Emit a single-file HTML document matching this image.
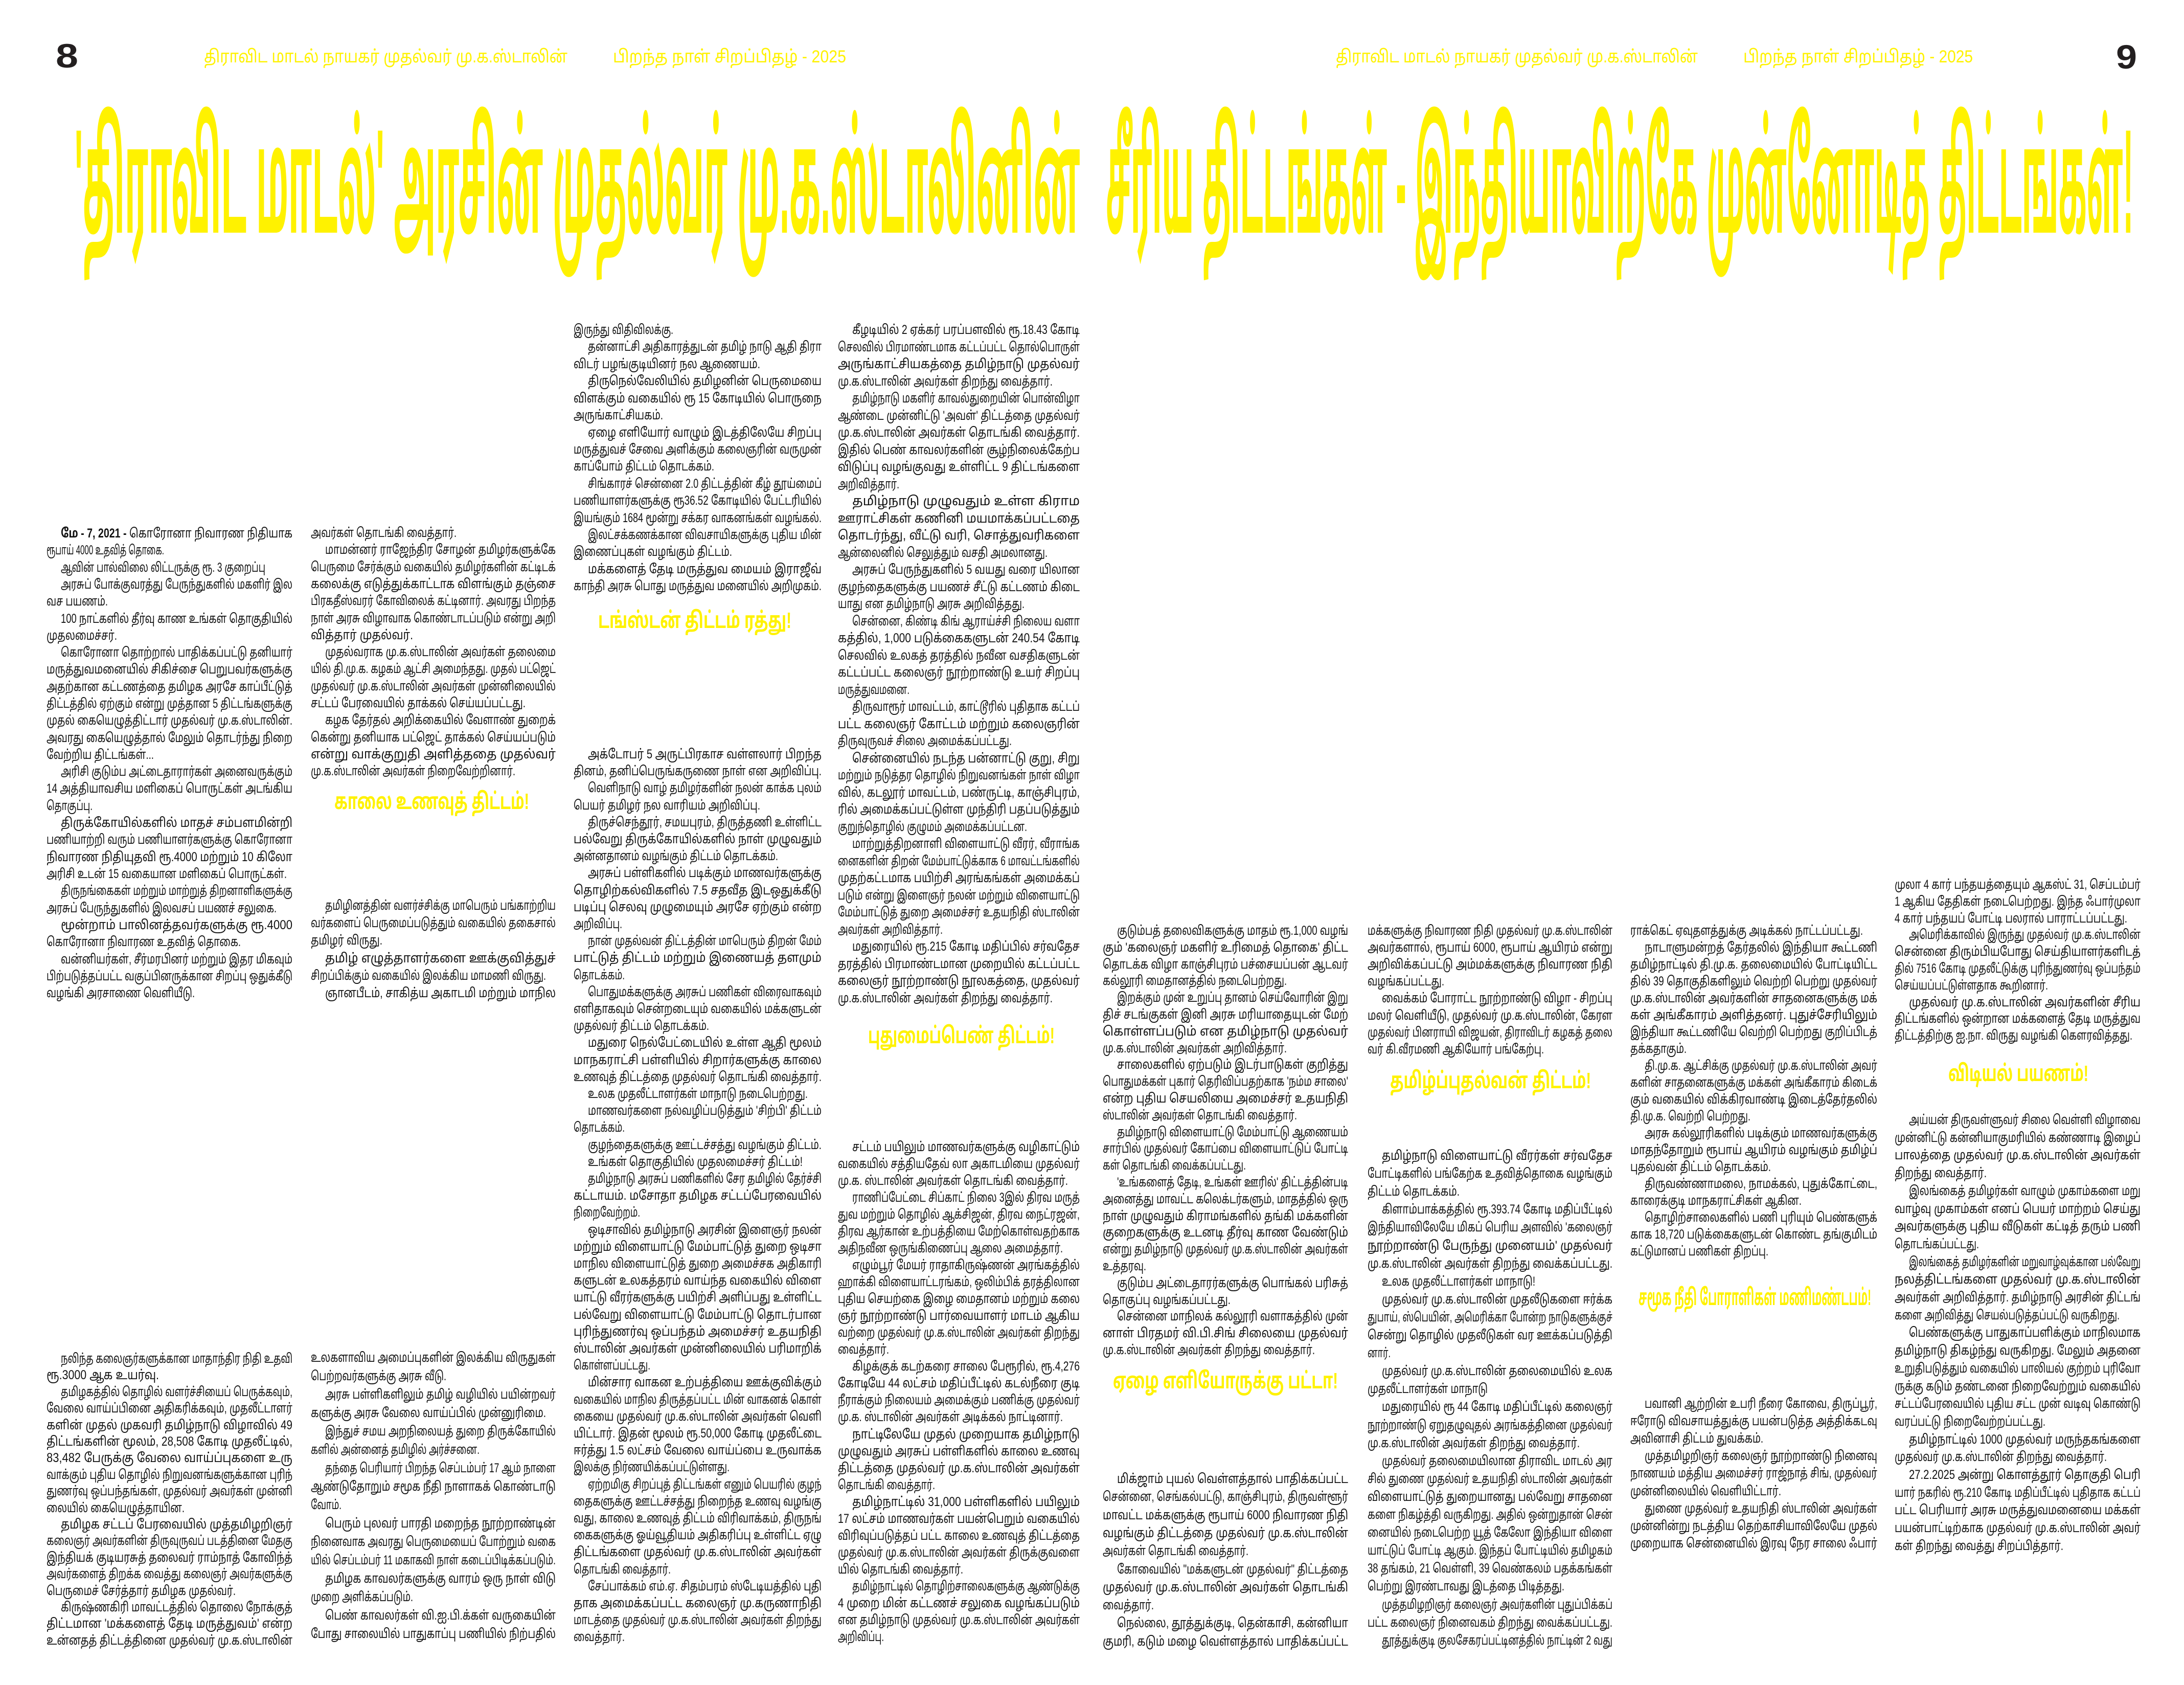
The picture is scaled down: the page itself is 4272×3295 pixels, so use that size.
<!DOCTYPE html>
<html><head><meta charset="utf-8"><style>
html,body{margin:0;padding:0;background:#fff;}
svg{display:block}
text{font-family:"Liberation Sans","Noto Sans Tamil","Lohit Tamil","Noto Sans CJK SC",sans-serif;font-size:25px;fill:#111}
.h{fill:#fff200;font-weight:bold;font-size:44px}
.y{fill:#fff200;font-size:34px}
.n{font-size:66px;font-weight:bold;fill:#231f20}
.t{fill:#fff200;font-weight:bold;font-size:290px}
</style></head><body>
<svg width="4272" height="3295" viewBox="0 0 4272 3295" xmlns="http://www.w3.org/2000/svg">
<rect width="4272" height="3295" fill="#fff"/>
<text class="n" x="109" y="132" textLength="44" lengthAdjust="spacingAndGlyphs">8</text>
<text class="n" x="4139" y="134" textLength="41" lengthAdjust="spacingAndGlyphs">9</text>
<text class="y" x="399" y="122" textLength="711" lengthAdjust="spacingAndGlyphs">திராவிட மாடல் நாயகர் முதல்வர் மு.க.ஸ்டாலின்</text>
<text class="y" x="1199" y="122" textLength="456" lengthAdjust="spacingAndGlyphs">பிறந்த நாள் சிறப்பிதழ் - 2025</text>
<text class="y" x="2613" y="122" textLength="708" lengthAdjust="spacingAndGlyphs">திராவிட மாடல் நாயகர் முதல்வர் மு.க.ஸ்டாலின்</text>
<text class="y" x="3410" y="122" textLength="449" lengthAdjust="spacingAndGlyphs">பிறந்த நாள் சிறப்பிதழ் - 2025</text>
<text class="t" x="146" y="455" textLength="1967" lengthAdjust="spacingAndGlyphs">'திராவிட மாடல்' அரசின் முதல்வர் மு.க.ஸ்டாலினின்</text>
<text class="t" x="2163" y="455" textLength="2010" lengthAdjust="spacingAndGlyphs">சீரிய திட்டங்கள் - இந்தியாவிற்கே முன்னோடித் திட்டங்கள்!</text>

<text class="h" x="654" y="1582" textLength="381" lengthAdjust="spacingAndGlyphs">காலை உணவுத் திட்டம்!</text>
<text class="h" x="1170" y="1228" textLength="378" lengthAdjust="spacingAndGlyphs">டங்ஸ்டன் திட்டம் ரத்து!</text>
<text class="h" x="1698" y="2040" textLength="365" lengthAdjust="spacingAndGlyphs">புதுமைப்பெண் திட்டம்!</text>
<text class="h" x="2177" y="2715" textLength="440" lengthAdjust="spacingAndGlyphs">ஏழை எளியோருக்கு பட்டா!</text>
<text class="h" x="2719" y="2128" textLength="393" lengthAdjust="spacingAndGlyphs">தமிழ்ப்புதல்வன் திட்டம்!</text>
<text class="h" x="3205" y="2552" textLength="455" lengthAdjust="spacingAndGlyphs">சமூக நீதி போராளிகள் மணிமண்டபம்!</text>
<text class="h" x="3811" y="2114" textLength="274" lengthAdjust="spacingAndGlyphs">விடியல் பயணம்!</text>

<g>
<text x="119" y="1051" textLength="453" lengthAdjust="spacingAndGlyphs"><tspan font-weight="bold">மே - 7, 2021 -</tspan> கொரோனா நிவாரண நிதியாக</text>
<text x="91" y="1084" textLength="230" lengthAdjust="spacingAndGlyphs">ரூபாய் 4000 உதவித் தொகை.</text>
<text x="119" y="1118" textLength="400" lengthAdjust="spacingAndGlyphs">ஆவின் பால்விலை லிட்டருக்கு ரூ. 3 குறைப்பு</text>
<text x="119" y="1151" textLength="453" lengthAdjust="spacingAndGlyphs">அரசுப் போக்குவரத்து பேருந்துகளில் மகளிர் இல</text>
<text x="91" y="1184" textLength="120" lengthAdjust="spacingAndGlyphs">வச பயணம்.</text>
<text x="119" y="1218" textLength="453" lengthAdjust="spacingAndGlyphs">100 நாட்களில் தீர்வு காண உங்கள் தொகுதியில்</text>
<text x="91" y="1251" textLength="138" lengthAdjust="spacingAndGlyphs">முதலமைச்சர்.</text>
<text x="119" y="1284" textLength="453" lengthAdjust="spacingAndGlyphs">கொரோனா தொற்றால் பாதிக்கப்பட்டு தனியார்</text>
<text x="91" y="1317" textLength="481" lengthAdjust="spacingAndGlyphs">மருத்துவமனையில் சிகிச்சை பெறுபவர்களுக்கு</text>
<text x="91" y="1351" textLength="481" lengthAdjust="spacingAndGlyphs">அதற்கான கட்டணத்தை தமிழக அரசே காப்பீட்டுத்</text>
<text x="91" y="1384" textLength="481" lengthAdjust="spacingAndGlyphs">திட்டத்தில் ஏற்கும் என்று முத்தான 5 திட்டங்களுக்கு</text>
<text x="91" y="1417" textLength="481" lengthAdjust="spacingAndGlyphs">முதல் கையெழுத்திட்டார் முதல்வர் மு.க.ஸ்டாலின்.</text>
<text x="91" y="1451" textLength="481" lengthAdjust="spacingAndGlyphs">அவரது கையெழுத்தால் மேலும் தொடர்ந்து நிறை</text>
<text x="91" y="1484" textLength="210" lengthAdjust="spacingAndGlyphs">வேற்றிய திட்டங்கள்...</text>
<text x="119" y="1517" textLength="453" lengthAdjust="spacingAndGlyphs">அரிசி குடும்ப அட்டைதாரார்கள் அனைவருக்கும்</text>
<text x="91" y="1550" textLength="481" lengthAdjust="spacingAndGlyphs">14 அத்தியாவசிய மளிகைப் பொருட்கள் அடங்கிய</text>
<text x="91" y="1584" textLength="90" lengthAdjust="spacingAndGlyphs">தொகுப்பு.</text>
<text x="119" y="1617" textLength="453" lengthAdjust="spacingAndGlyphs">திருக்கோயில்களில் மாதச் சம்பளமின்றி</text>
<text x="91" y="1650" textLength="481" lengthAdjust="spacingAndGlyphs">பணியாற்றி வரும் பணியாளர்களுக்கு கொரோனா</text>
<text x="91" y="1684" textLength="481" lengthAdjust="spacingAndGlyphs">நிவாரண நிதியுதவி ரூ.4000 மற்றும் 10 கிலோ</text>
<text x="91" y="1717" textLength="470" lengthAdjust="spacingAndGlyphs">அரிசி உடன் 15 வகையான மளிகைப் பொருட்கள்.</text>
<text x="119" y="1750" textLength="453" lengthAdjust="spacingAndGlyphs">திருநங்கைகள் மற்றும் மாற்றுத் திறனாளிகளுக்கு</text>
<text x="91" y="1784" textLength="450" lengthAdjust="spacingAndGlyphs">அரசுப் பேருந்துகளில் இலவசப் பயணச் சலுகை.</text>
<text x="119" y="1817" textLength="453" lengthAdjust="spacingAndGlyphs">மூன்றாம் பாலினத்தவர்களுக்கு ரூ.4000</text>
<text x="91" y="1850" textLength="380" lengthAdjust="spacingAndGlyphs">கொரோனா நிவாரண உதவித் தொகை.</text>
<text x="119" y="1884" textLength="453" lengthAdjust="spacingAndGlyphs">வன்னியர்கள், சீர்மரபினர் மற்றும் இதர மிகவும்</text>
<text x="91" y="1917" textLength="481" lengthAdjust="spacingAndGlyphs">பிற்படுத்தப்பட்ட வகுப்பினருக்கான சிறப்பு ஒதுக்கீடு</text>
<text x="91" y="1950" textLength="290" lengthAdjust="spacingAndGlyphs">வழங்கி அரசாணை வெளியீடு.</text>
</g>

<g>
<text x="119" y="2665" textLength="453" lengthAdjust="spacingAndGlyphs">நலிந்த கலைஞர்களுக்கான மாதாந்திர நிதி உதவி</text>
<text x="91" y="2697" textLength="220" lengthAdjust="spacingAndGlyphs">ரூ.3000 ஆக உயர்வு.</text>
<text x="119" y="2730" textLength="453" lengthAdjust="spacingAndGlyphs">தமிழகத்தில் தொழில் வளர்ச்சியைப் பெருக்கவும்,</text>
<text x="91" y="2762" textLength="481" lengthAdjust="spacingAndGlyphs">வேலை வாய்ப்பினை அதிகரிக்கவும், முதலீட்டாளர்</text>
<text x="91" y="2795" textLength="481" lengthAdjust="spacingAndGlyphs">களின் முதல் முகவரி தமிழ்நாடு விழாவில் 49</text>
<text x="91" y="2827" textLength="481" lengthAdjust="spacingAndGlyphs">திட்டங்களின் மூலம், 28,508 கோடி முதலீட்டில்,</text>
<text x="91" y="2859" textLength="481" lengthAdjust="spacingAndGlyphs">83,482 பேருக்கு வேலை வாய்ப்புகளை உரு</text>
<text x="91" y="2892" textLength="481" lengthAdjust="spacingAndGlyphs">வாக்கும் புதிய தொழில் நிறுவனங்களுக்கான புரிந்</text>
<text x="91" y="2924" textLength="481" lengthAdjust="spacingAndGlyphs">துணர்வு ஒப்பந்தங்கள், முதல்வர் அவர்கள் முன்னி</text>
<text x="91" y="2957" textLength="270" lengthAdjust="spacingAndGlyphs">லையில் கையெழுத்தாயின.</text>
<text x="119" y="2989" textLength="453" lengthAdjust="spacingAndGlyphs">தமிழக சட்டப் பேரவையில் முத்தமிழறிஞர்</text>
<text x="91" y="3021" textLength="481" lengthAdjust="spacingAndGlyphs">கலைஞர் அவர்களின் திருவுருவப் படத்தினை மேதகு</text>
<text x="91" y="3054" textLength="481" lengthAdjust="spacingAndGlyphs">இந்தியக் குடியரசுத் தலைவர் ராம்நாத் கோவிந்த்</text>
<text x="91" y="3086" textLength="481" lengthAdjust="spacingAndGlyphs">அவர்களைத் திறக்க வைத்து கலைஞர் அவர்களுக்கு</text>
<text x="91" y="3119" textLength="370" lengthAdjust="spacingAndGlyphs">பெருமைச் சேர்த்தார் தமிழக முதல்வர்.</text>
<text x="119" y="3151" textLength="453" lengthAdjust="spacingAndGlyphs">கிருஷ்ணகிரி மாவட்டத்தில் தொலை நோக்குத்</text>
<text x="91" y="3183" textLength="481" lengthAdjust="spacingAndGlyphs">திட்டமான 'மக்களைத் தேடி மருத்துவம்' என்ற</text>
<text x="91" y="3216" textLength="481" lengthAdjust="spacingAndGlyphs">உன்னதத் திட்டத்தினை முதல்வர் மு.க.ஸ்டாலின்</text>
</g>

<g>
<text x="608" y="1050" textLength="285" lengthAdjust="spacingAndGlyphs">அவர்கள் தொடங்கி வைத்தார்.</text>
<text x="636" y="1083" textLength="451" lengthAdjust="spacingAndGlyphs">மாமன்னர் ராஜேந்திர சோழன் தமிழர்களுக்கே</text>
<text x="608" y="1117" textLength="479" lengthAdjust="spacingAndGlyphs">பெருமை சேர்க்கும் வகையில் தமிழர்களின் கட்டிடக்</text>
<text x="608" y="1150" textLength="479" lengthAdjust="spacingAndGlyphs">கலைக்கு எடுத்துக்காட்டாக விளங்கும் தஞ்சை</text>
<text x="608" y="1183" textLength="479" lengthAdjust="spacingAndGlyphs">பிரகதீஸ்வரர் கோவிலைக் கட்டினார். அவரது பிறந்த</text>
<text x="608" y="1217" textLength="479" lengthAdjust="spacingAndGlyphs">நாள் அரசு விழாவாக கொண்டாடப்படும் என்று அறி</text>
<text x="608" y="1250" textLength="200" lengthAdjust="spacingAndGlyphs">வித்தார் முதல்வர்.</text>
<text x="636" y="1283" textLength="451" lengthAdjust="spacingAndGlyphs">முதல்வராக மு.க.ஸ்டாலின் அவர்கள் தலைமை</text>
<text x="608" y="1316" textLength="479" lengthAdjust="spacingAndGlyphs">யில் தி.மு.க. கழகம் ஆட்சி அமைந்தது. முதல் பட்ஜெட்</text>
<text x="608" y="1350" textLength="479" lengthAdjust="spacingAndGlyphs">முதல்வர் மு.க.ஸ்டாலின் அவர்கள் முன்னிலையில்</text>
<text x="608" y="1383" textLength="420" lengthAdjust="spacingAndGlyphs">சட்டப் பேரவையில் தாக்கல் செய்யப்பட்டது.</text>
<text x="636" y="1416" textLength="451" lengthAdjust="spacingAndGlyphs">கழக தேர்தல் அறிக்கையில் வேளாண் துறைக்</text>
<text x="608" y="1450" textLength="479" lengthAdjust="spacingAndGlyphs">கென்று தனியாக பட்ஜெட் தாக்கல் செய்யப்படும்</text>
<text x="608" y="1483" textLength="479" lengthAdjust="spacingAndGlyphs">என்று வாக்குறுதி அளித்ததை முதல்வர்</text>
<text x="608" y="1516" textLength="400" lengthAdjust="spacingAndGlyphs">மு.க.ஸ்டாலின் அவர்கள் நிறைவேற்றினார்.</text>
</g>
<g>
<text x="636" y="1779" textLength="451" lengthAdjust="spacingAndGlyphs">தமிழினத்தின் வளர்ச்சிக்கு மாபெரும் பங்காற்றிய</text>
<text x="608" y="1813" textLength="479" lengthAdjust="spacingAndGlyphs">வர்களைப் பெருமைப்படுத்தும் வகையில் தகைசால்</text>
<text x="608" y="1847" textLength="140" lengthAdjust="spacingAndGlyphs">தமிழர் விருது.</text>
<text x="636" y="1882" textLength="451" lengthAdjust="spacingAndGlyphs">தமிழ் எழுத்தாளர்களை ஊக்குவித்துச்</text>
<text x="608" y="1916" textLength="460" lengthAdjust="spacingAndGlyphs">சிறப்பிக்கும் வகையில் இலக்கிய மாமணி விருது.</text>
<text x="636" y="1950" textLength="451" lengthAdjust="spacingAndGlyphs">ஞானபீடம், சாகித்ய அகாடமி மற்றும் மாநில</text>
</g>
<g>
<text x="608" y="2663" textLength="479" lengthAdjust="spacingAndGlyphs">உலகளாவிய அமைப்புகளின் இலக்கிய விருதுகள்</text>
<text x="608" y="2699" textLength="265" lengthAdjust="spacingAndGlyphs">பெற்றவர்களுக்கு அரசு வீடு.</text>
<text x="636" y="2735" textLength="451" lengthAdjust="spacingAndGlyphs">அரசு பள்ளிகளிலும் தமிழ் வழியில் பயின்றவர்</text>
<text x="608" y="2771" textLength="460" lengthAdjust="spacingAndGlyphs">களுக்கு அரசு வேலை வாய்ப்பில் முன்னுரிமை.</text>
<text x="636" y="2807" textLength="451" lengthAdjust="spacingAndGlyphs">இந்துச் சமய அறநிலையத் துறை திருக்கோயில்</text>
<text x="608" y="2843" textLength="330" lengthAdjust="spacingAndGlyphs">களில் அன்னைத் தமிழில் அர்ச்சனை.</text>
<text x="636" y="2879" textLength="451" lengthAdjust="spacingAndGlyphs">தந்தை பெரியார் பிறந்த செப்டம்பர் 17 ஆம் நாளை</text>
<text x="608" y="2915" textLength="479" lengthAdjust="spacingAndGlyphs">ஆண்டுதோறும் சமூக நீதி நாளாகக் கொண்டாடு</text>
<text x="608" y="2951" textLength="60" lengthAdjust="spacingAndGlyphs">வோம்.</text>
<text x="636" y="2987" textLength="451" lengthAdjust="spacingAndGlyphs">பெரும் புலவர் பாரதி மறைந்த நூற்றாண்டின்</text>
<text x="608" y="3023" textLength="479" lengthAdjust="spacingAndGlyphs">நினைவாக அவரது பெருமையைப் போற்றும் வகை</text>
<text x="608" y="3059" textLength="479" lengthAdjust="spacingAndGlyphs">யில் செப்டம்பர் 11 மகாகவி நாள் கடைப்பிடிக்கப்படும்.</text>
<text x="636" y="3095" textLength="451" lengthAdjust="spacingAndGlyphs">தமிழக காவலர்களுக்கு வாரம் ஒரு நாள் விடு</text>
<text x="608" y="3131" textLength="200" lengthAdjust="spacingAndGlyphs">முறை அளிக்கப்படும்.</text>
<text x="636" y="3167" textLength="451" lengthAdjust="spacingAndGlyphs">பெண் காவலர்கள் வி.ஐ.பி.க்கள் வருகையின்</text>
<text x="608" y="3203" textLength="479" lengthAdjust="spacingAndGlyphs">போது சாலையில் பாதுகாப்பு பணியில் நிற்பதில்</text>
</g>

<g>
<text x="1122" y="653" textLength="195" lengthAdjust="spacingAndGlyphs">இருந்து விதிவிலக்கு.</text>
<text x="1150" y="686" textLength="457" lengthAdjust="spacingAndGlyphs">தன்னாட்சி அதிகாரத்துடன் தமிழ் நாடு ஆதி திரா</text>
<text x="1122" y="720" textLength="365" lengthAdjust="spacingAndGlyphs">விடர் பழங்குடியினர் நல ஆணையம்.</text>
<text x="1150" y="753" textLength="457" lengthAdjust="spacingAndGlyphs">திருநெல்வேலியில் தமிழனின் பெருமையை</text>
<text x="1122" y="787" textLength="485" lengthAdjust="spacingAndGlyphs">விளக்கும் வகையில் ரூ 15 கோடியில் பொருநை</text>
<text x="1122" y="820" textLength="175" lengthAdjust="spacingAndGlyphs">அருங்காட்சியகம்.</text>
<text x="1150" y="854" textLength="457" lengthAdjust="spacingAndGlyphs">ஏழை எளியோர் வாழும் இடத்திலேயே சிறப்பு</text>
<text x="1122" y="887" textLength="485" lengthAdjust="spacingAndGlyphs">மருத்துவச் சேவை அளிக்கும் கலைஞரின் வருமுன்</text>
<text x="1122" y="920" textLength="275" lengthAdjust="spacingAndGlyphs">காப்போம் திட்டம் தொடக்கம்.</text>
<text x="1150" y="954" textLength="457" lengthAdjust="spacingAndGlyphs">சிங்காரச் சென்னை 2.0 திட்டத்தின் கீழ் தூய்மைப்</text>
<text x="1122" y="987" textLength="485" lengthAdjust="spacingAndGlyphs">பணியாளர்களுக்கு ரூ36.52 கோடியில் பேட்டரியில்</text>
<text x="1122" y="1021" textLength="485" lengthAdjust="spacingAndGlyphs">இயங்கும் 1684 மூன்று சக்கர வாகனங்கள் வழங்கல்.</text>
<text x="1150" y="1054" textLength="457" lengthAdjust="spacingAndGlyphs">இலட்சக்கணக்கான விவசாயிகளுக்கு புதிய மின்</text>
<text x="1122" y="1087" textLength="310" lengthAdjust="spacingAndGlyphs">இணைப்புகள் வழங்கும் திட்டம்.</text>
<text x="1150" y="1121" textLength="457" lengthAdjust="spacingAndGlyphs">மக்களைத் தேடி மருத்துவ மையம் இராஜீவ்</text>
<text x="1122" y="1154" textLength="485" lengthAdjust="spacingAndGlyphs">காந்தி அரசு பொது மருத்துவ மனையில் அறிமுகம்.</text>
</g>
<g>
<text x="1150" y="1483" textLength="457" lengthAdjust="spacingAndGlyphs">அக்டோபர் 5 அருட்பிரகாச வள்ளலார் பிறந்த</text>
<text x="1122" y="1516" textLength="485" lengthAdjust="spacingAndGlyphs">தினம், தனிப்பெருங்கருணை நாள் என அறிவிப்பு.</text>
<text x="1150" y="1549" textLength="457" lengthAdjust="spacingAndGlyphs">வெளிநாடு வாழ் தமிழர்களின் நலன் காக்க புலம்</text>
<text x="1122" y="1583" textLength="365" lengthAdjust="spacingAndGlyphs">பெயர் தமிழர் நல வாரியம் அறிவிப்பு.</text>
<text x="1150" y="1616" textLength="457" lengthAdjust="spacingAndGlyphs">திருச்செந்தூர், சமயபுரம், திருத்தணி உள்ளிட்ட</text>
<text x="1122" y="1649" textLength="485" lengthAdjust="spacingAndGlyphs">பல்வேறு திருக்கோயில்களில் நாள் முழுவதும்</text>
<text x="1122" y="1682" textLength="400" lengthAdjust="spacingAndGlyphs">அன்னதானம் வழங்கும் திட்டம் தொடக்கம்.</text>
<text x="1150" y="1715" textLength="457" lengthAdjust="spacingAndGlyphs">அரசுப் பள்ளிகளில் படிக்கும் மாணவர்களுக்கு</text>
<text x="1122" y="1749" textLength="485" lengthAdjust="spacingAndGlyphs">தொழிற்கல்விகளில் 7.5 சதவீத இடஒதுக்கீடு</text>
<text x="1122" y="1782" textLength="485" lengthAdjust="spacingAndGlyphs">படிப்பு செலவு முழுமையும் அரசே ஏற்கும் என்ற</text>
<text x="1122" y="1815" textLength="95" lengthAdjust="spacingAndGlyphs">அறிவிப்பு.</text>
<text x="1150" y="1848" textLength="457" lengthAdjust="spacingAndGlyphs">நான் முதல்வன் திட்டத்தின் மாபெரும் திறன் மேம்</text>
<text x="1122" y="1881" textLength="485" lengthAdjust="spacingAndGlyphs">பாட்டுத் திட்டம் மற்றும் இணையத் தளமும்</text>
<text x="1122" y="1915" textLength="100" lengthAdjust="spacingAndGlyphs">தொடக்கம்.</text>
<text x="1150" y="1948" textLength="457" lengthAdjust="spacingAndGlyphs">பொதுமக்களுக்கு அரசுப் பணிகள் விரைவாகவும்</text>
<text x="1122" y="1981" textLength="485" lengthAdjust="spacingAndGlyphs">எளிதாகவும் சென்றடையும் வகையில் மக்களுடன்</text>
<text x="1122" y="2014" textLength="265" lengthAdjust="spacingAndGlyphs">முதல்வர் திட்டம் தொடக்கம்.</text>
<text x="1150" y="2047" textLength="457" lengthAdjust="spacingAndGlyphs">மதுரை நெல்பேட்டையில் உள்ள ஆதி மூலம்</text>
<text x="1122" y="2081" textLength="485" lengthAdjust="spacingAndGlyphs">மாநகராட்சி பள்ளியில் சிறார்களுக்கு காலை</text>
<text x="1122" y="2114" textLength="485" lengthAdjust="spacingAndGlyphs">உணவுத் திட்டத்தை முதல்வர் தொடங்கி வைத்தார்.</text>
<text x="1150" y="2147" textLength="430" lengthAdjust="spacingAndGlyphs">உலக முதலீட்டாளர்கள் மாநாடு நடைபெற்றது.</text>
<text x="1150" y="2180" textLength="457" lengthAdjust="spacingAndGlyphs">மாணவர்களை நல்வழிப்படுத்தும் 'சிற்பி' திட்டம்</text>
<text x="1122" y="2213" textLength="100" lengthAdjust="spacingAndGlyphs">தொடக்கம்.</text>
<text x="1150" y="2247" textLength="457" lengthAdjust="spacingAndGlyphs">குழந்தைகளுக்கு ஊட்டச்சத்து வழங்கும் திட்டம்.</text>
<text x="1150" y="2280" textLength="420" lengthAdjust="spacingAndGlyphs">உங்கள் தொகுதியில் முதலமைச்சர் திட்டம்!</text>
<text x="1150" y="2313" textLength="457" lengthAdjust="spacingAndGlyphs">தமிழ்நாடு அரசுப் பணிகளில் சேர தமிழில் தேர்ச்சி</text>
<text x="1122" y="2346" textLength="485" lengthAdjust="spacingAndGlyphs">கட்டாயம். மசோதா தமிழக சட்டப்பேரவையில்</text>
<text x="1122" y="2379" textLength="130" lengthAdjust="spacingAndGlyphs">நிறைவேற்றம்.</text>
<text x="1150" y="2413" textLength="457" lengthAdjust="spacingAndGlyphs">ஒடிசாவில் தமிழ்நாடு அரசின் இளைஞர் நலன்</text>
<text x="1122" y="2446" textLength="485" lengthAdjust="spacingAndGlyphs">மற்றும் விளையாட்டு மேம்பாட்டுத் துறை ஒடிசா</text>
<text x="1122" y="2479" textLength="485" lengthAdjust="spacingAndGlyphs">மாநில விளையாட்டுத் துறை அமைச்சக அதிகாரி</text>
<text x="1122" y="2512" textLength="485" lengthAdjust="spacingAndGlyphs">களுடன் உலகத்தரம் வாய்ந்த வகையில் விளை</text>
<text x="1122" y="2545" textLength="485" lengthAdjust="spacingAndGlyphs">யாட்டு வீரர்களுக்கு பயிற்சி அளிப்பது உள்ளிட்ட</text>
<text x="1122" y="2579" textLength="485" lengthAdjust="spacingAndGlyphs">பல்வேறு விளையாட்டு மேம்பாட்டு தொடர்பான</text>
<text x="1122" y="2612" textLength="485" lengthAdjust="spacingAndGlyphs">புரிந்துணர்வு ஒப்பந்தம் அமைச்சர் உதயநிதி</text>
<text x="1122" y="2645" textLength="485" lengthAdjust="spacingAndGlyphs">ஸ்டாலின் அவர்கள் முன்னிலையில் பரிமாறிக்</text>
<text x="1122" y="2678" textLength="150" lengthAdjust="spacingAndGlyphs">கொள்ளப்பட்டது.</text>
<text x="1150" y="2711" textLength="457" lengthAdjust="spacingAndGlyphs">மின்சார வாகன உற்பத்தியை ஊக்குவிக்கும்</text>
<text x="1122" y="2745" textLength="485" lengthAdjust="spacingAndGlyphs">வகையில் மாநில திருத்தப்பட்ட மின் வாகனக் கொள்</text>
<text x="1122" y="2778" textLength="485" lengthAdjust="spacingAndGlyphs">கையை முதல்வர் மு.க.ஸ்டாலின் அவர்கள் வெளி</text>
<text x="1122" y="2811" textLength="485" lengthAdjust="spacingAndGlyphs">யிட்டார். இதன் மூலம் ரூ.50,000 கோடி முதலீட்டை</text>
<text x="1122" y="2844" textLength="485" lengthAdjust="spacingAndGlyphs">ஈர்த்து 1.5 லட்சம் வேலை வாய்ப்பை உருவாக்க</text>
<text x="1122" y="2877" textLength="305" lengthAdjust="spacingAndGlyphs">இலக்கு நிர்ணயிக்கப்பட்டுள்ளது.</text>
<text x="1150" y="2911" textLength="457" lengthAdjust="spacingAndGlyphs">ஏற்றமிகு சிறப்புத் திட்டங்கள் எனும் பெயரில் குழந்</text>
<text x="1122" y="2944" textLength="485" lengthAdjust="spacingAndGlyphs">தைகளுக்கு ஊட்டச்சத்து நிறைந்த உணவு வழங்கு</text>
<text x="1122" y="2977" textLength="485" lengthAdjust="spacingAndGlyphs">வது, காலை உணவுத் திட்டம் விரிவாக்கம், திருநங்</text>
<text x="1122" y="3010" textLength="485" lengthAdjust="spacingAndGlyphs">கைகளுக்கு ஓய்வூதியம் அதிகரிப்பு உள்ளிட்ட ஏழு</text>
<text x="1122" y="3043" textLength="485" lengthAdjust="spacingAndGlyphs">திட்டங்களை முதல்வர் மு.க.ஸ்டாலின் அவர்கள்</text>
<text x="1122" y="3077" textLength="190" lengthAdjust="spacingAndGlyphs">தொடங்கி வைத்தார்.</text>
<text x="1150" y="3110" textLength="457" lengthAdjust="spacingAndGlyphs">சேப்பாக்கம் எம்.ஏ. சிதம்பரம் ஸ்டேடியத்தில் புதி</text>
<text x="1122" y="3143" textLength="485" lengthAdjust="spacingAndGlyphs">தாக அமைக்கப்பட்ட கலைஞர் மு.கருணாநிதி</text>
<text x="1122" y="3176" textLength="485" lengthAdjust="spacingAndGlyphs">மாடத்தை முதல்வர் மு.க.ஸ்டாலின் அவர்கள் திறந்து</text>
<text x="1122" y="3209" textLength="100" lengthAdjust="spacingAndGlyphs">வைத்தார்.</text>
</g>

<g>
<text x="1667" y="653" textLength="445" lengthAdjust="spacingAndGlyphs">கீழடியில் 2 ஏக்கர் பரப்பளவில் ரூ.18.43 கோடி</text>
<text x="1639" y="687" textLength="473" lengthAdjust="spacingAndGlyphs">செலவில் பிரமாண்டமாக கட்டப்பட்ட தொல்பொருள்</text>
<text x="1639" y="720" textLength="473" lengthAdjust="spacingAndGlyphs">அருங்காட்சியகத்தை தமிழ்நாடு முதல்வர்</text>
<text x="1639" y="754" textLength="420" lengthAdjust="spacingAndGlyphs">மு.க.ஸ்டாலின் அவர்கள் திறந்து வைத்தார்.</text>
<text x="1667" y="787" textLength="445" lengthAdjust="spacingAndGlyphs">தமிழ்நாடு மகளிர் காவல்துறையின் பொன்விழா</text>
<text x="1639" y="821" textLength="473" lengthAdjust="spacingAndGlyphs">ஆண்டை முன்னிட்டு 'அவள்' திட்டத்தை முதல்வர்</text>
<text x="1639" y="854" textLength="473" lengthAdjust="spacingAndGlyphs">மு.க.ஸ்டாலின் அவர்கள் தொடங்கி வைத்தார்.</text>
<text x="1639" y="888" textLength="473" lengthAdjust="spacingAndGlyphs">இதில் பெண் காவலர்களின் சூழ்நிலைக்கேற்ப</text>
<text x="1639" y="921" textLength="473" lengthAdjust="spacingAndGlyphs">விடுப்பு வழங்குவது உள்ளிட்ட 9 திட்டங்களை</text>
<text x="1639" y="955" textLength="120" lengthAdjust="spacingAndGlyphs">அறிவித்தார்.</text>
<text x="1667" y="988" textLength="445" lengthAdjust="spacingAndGlyphs">தமிழ்நாடு முழுவதும் உள்ள கிராம</text>
<text x="1639" y="1022" textLength="473" lengthAdjust="spacingAndGlyphs">ஊராட்சிகள் கணினி மயமாக்கப்பட்டதை</text>
<text x="1639" y="1055" textLength="473" lengthAdjust="spacingAndGlyphs">தொடர்ந்து, வீட்டு வரி, சொத்துவரிகளை</text>
<text x="1639" y="1089" textLength="410" lengthAdjust="spacingAndGlyphs">ஆன்லைனில் செலுத்தும் வசதி அமலானது.</text>
<text x="1667" y="1122" textLength="445" lengthAdjust="spacingAndGlyphs">அரசுப் பேருந்துகளில் 5 வயது வரை யிலான</text>
<text x="1639" y="1156" textLength="473" lengthAdjust="spacingAndGlyphs">குழந்தைகளுக்கு பயணச் சீட்டு கட்டணம் கிடை</text>
<text x="1639" y="1189" textLength="365" lengthAdjust="spacingAndGlyphs">யாது என தமிழ்நாடு அரசு அறிவித்தது.</text>
<text x="1667" y="1223" textLength="445" lengthAdjust="spacingAndGlyphs">சென்னை, கிண்டி கிங் ஆராய்ச்சி நிலைய வளா</text>
<text x="1639" y="1256" textLength="473" lengthAdjust="spacingAndGlyphs">கத்தில், 1,000 படுக்கைகளுடன் 240.54 கோடி</text>
<text x="1639" y="1290" textLength="473" lengthAdjust="spacingAndGlyphs">செலவில் உலகத் தரத்தில் நவீன வசதிகளுடன்</text>
<text x="1639" y="1323" textLength="473" lengthAdjust="spacingAndGlyphs">கட்டப்பட்ட கலைஞர் நூற்றாண்டு உயர் சிறப்பு</text>
<text x="1639" y="1357" textLength="140" lengthAdjust="spacingAndGlyphs">மருத்துவமனை.</text>
<text x="1667" y="1390" textLength="445" lengthAdjust="spacingAndGlyphs">திருவாரூர் மாவட்டம், காட்டூரில் புதிதாக கட்டப்</text>
<text x="1639" y="1424" textLength="473" lengthAdjust="spacingAndGlyphs">பட்ட கலைஞர் கோட்டம் மற்றும் கலைஞரின்</text>
<text x="1639" y="1457" textLength="340" lengthAdjust="spacingAndGlyphs">திருவுருவச் சிலை அமைக்கப்பட்டது.</text>
<text x="1667" y="1491" textLength="445" lengthAdjust="spacingAndGlyphs">சென்னையில் நடந்த பன்னாட்டு குறு, சிறு</text>
<text x="1639" y="1524" textLength="473" lengthAdjust="spacingAndGlyphs">மற்றும் நடுத்தர தொழில் நிறுவனங்கள் நாள் விழா</text>
<text x="1639" y="1558" textLength="473" lengthAdjust="spacingAndGlyphs">வில், கடலூர் மாவட்டம், பண்ருட்டி, காஞ்சிபுரம்,</text>
<text x="1639" y="1591" textLength="473" lengthAdjust="spacingAndGlyphs">ரில் அமைக்கப்பட்டுள்ள முந்திரி பதப்படுத்தும்</text>
<text x="1639" y="1625" textLength="370" lengthAdjust="spacingAndGlyphs">குறுந்தொழில் குழுமம் அமைக்கப்பட்டன.</text>
<text x="1667" y="1658" textLength="445" lengthAdjust="spacingAndGlyphs">மாற்றுத்திறனாளி விளையாட்டு வீரர், வீராங்க</text>
<text x="1639" y="1692" textLength="473" lengthAdjust="spacingAndGlyphs">னைகளின் திறன் மேம்பாட்டுக்காக 6 மாவட்டங்களில்</text>
<text x="1639" y="1725" textLength="473" lengthAdjust="spacingAndGlyphs">முதற்கட்டமாக பயிற்சி அரங்கங்கள் அமைக்கப்</text>
<text x="1639" y="1759" textLength="473" lengthAdjust="spacingAndGlyphs">படும் என்று இளைஞர் நலன் மற்றும் விளையாட்டு</text>
<text x="1639" y="1792" textLength="473" lengthAdjust="spacingAndGlyphs">மேம்பாட்டுத் துறை அமைச்சர் உதயநிதி ஸ்டாலின்</text>
<text x="1639" y="1826" textLength="205" lengthAdjust="spacingAndGlyphs">அவர்கள் அறிவித்தார்.</text>
<text x="1667" y="1859" textLength="445" lengthAdjust="spacingAndGlyphs">மதுரையில் ரூ.215 கோடி மதிப்பில் சர்வதேச</text>
<text x="1639" y="1893" textLength="473" lengthAdjust="spacingAndGlyphs">தரத்தில் பிரமாண்டமான முறையில் கட்டப்பட்ட</text>
<text x="1639" y="1926" textLength="473" lengthAdjust="spacingAndGlyphs">கலைஞர் நூற்றாண்டு நூலகத்தை, முதல்வர்</text>
<text x="1639" y="1960" textLength="420" lengthAdjust="spacingAndGlyphs">மு.க.ஸ்டாலின் அவர்கள் திறந்து வைத்தார்.</text>
</g>
<g>
<text x="1667" y="2251" textLength="445" lengthAdjust="spacingAndGlyphs">சட்டம் பயிலும் மாணவர்களுக்கு வழிகாட்டும்</text>
<text x="1639" y="2284" textLength="473" lengthAdjust="spacingAndGlyphs">வகையில் சத்தியதேவ் லா அகாடமியை முதல்வர்</text>
<text x="1639" y="2317" textLength="450" lengthAdjust="spacingAndGlyphs">மு.க. ஸ்டாலின் அவர்கள் தொடங்கி வைத்தார்.</text>
<text x="1667" y="2350" textLength="445" lengthAdjust="spacingAndGlyphs">ராணிப்பேட்டை சிப்காட் நிலை 3இல் திரவ மருத்</text>
<text x="1639" y="2383" textLength="473" lengthAdjust="spacingAndGlyphs">துவ மற்றும் தொழில் ஆக்சிஜன், திரவ நைட்ரஜன்,</text>
<text x="1639" y="2416" textLength="473" lengthAdjust="spacingAndGlyphs">திரவ ஆர்கான் உற்பத்தியை மேற்கொள்வதற்காக</text>
<text x="1639" y="2449" textLength="440" lengthAdjust="spacingAndGlyphs">அதிநவீன ஒருங்கிணைப்பு ஆலை அமைத்தார்.</text>
<text x="1667" y="2482" textLength="445" lengthAdjust="spacingAndGlyphs">எழும்பூர் மேயர் ராதாகிருஷ்ணன் அரங்கத்தில்</text>
<text x="1639" y="2515" textLength="473" lengthAdjust="spacingAndGlyphs">ஹாக்கி விளையாட்டரங்கம், ஒலிம்பிக் தரத்திலான</text>
<text x="1639" y="2548" textLength="473" lengthAdjust="spacingAndGlyphs">புதிய செயற்கை இழை மைதானம் மற்றும் கலை</text>
<text x="1639" y="2581" textLength="473" lengthAdjust="spacingAndGlyphs">ஞர் நூற்றாண்டு பார்வையாளர் மாடம் ஆகிய</text>
<text x="1639" y="2614" textLength="473" lengthAdjust="spacingAndGlyphs">வற்றை முதல்வர் மு.க.ஸ்டாலின் அவர்கள் திறந்து</text>
<text x="1639" y="2647" textLength="100" lengthAdjust="spacingAndGlyphs">வைத்தார்.</text>
<text x="1667" y="2680" textLength="445" lengthAdjust="spacingAndGlyphs">கிழக்குக் கடற்கரை சாலை பேரூரில், ரூ.4,276</text>
<text x="1639" y="2713" textLength="473" lengthAdjust="spacingAndGlyphs">கோடியே 44 லட்சம் மதிப்பீட்டில் கடல்நீரை குடி</text>
<text x="1639" y="2746" textLength="473" lengthAdjust="spacingAndGlyphs">நீராக்கும் நிலையம் அமைக்கும் பணிக்கு முதல்வர்</text>
<text x="1639" y="2779" textLength="440" lengthAdjust="spacingAndGlyphs">மு.க. ஸ்டாலின் அவர்கள் அடிக்கல் நாட்டினார்.</text>
<text x="1667" y="2813" textLength="445" lengthAdjust="spacingAndGlyphs">நாட்டிலேயே முதல் முறையாக தமிழ்நாடு</text>
<text x="1639" y="2846" textLength="473" lengthAdjust="spacingAndGlyphs">முழுவதும் அரசுப் பள்ளிகளில் காலை உணவு</text>
<text x="1639" y="2879" textLength="473" lengthAdjust="spacingAndGlyphs">திட்டத்தை முதல்வர் மு.க.ஸ்டாலின் அவர்கள்</text>
<text x="1639" y="2912" textLength="190" lengthAdjust="spacingAndGlyphs">தொடங்கி வைத்தார்.</text>
<text x="1667" y="2945" textLength="445" lengthAdjust="spacingAndGlyphs">தமிழ்நாட்டில் 31,000 பள்ளிகளில் பயிலும்</text>
<text x="1639" y="2978" textLength="473" lengthAdjust="spacingAndGlyphs">17 லட்சம் மாணவர்கள் பயன்பெறும் வகையில்</text>
<text x="1639" y="3011" textLength="473" lengthAdjust="spacingAndGlyphs">விரிவுப்படுத்தப் பட்ட காலை உணவுத் திட்டத்தை</text>
<text x="1639" y="3044" textLength="473" lengthAdjust="spacingAndGlyphs">முதல்வர் மு.க.ஸ்டாலின் அவர்கள் திருக்குவளை</text>
<text x="1639" y="3077" textLength="245" lengthAdjust="spacingAndGlyphs">யில் தொடங்கி வைத்தார்.</text>
<text x="1667" y="3110" textLength="445" lengthAdjust="spacingAndGlyphs">தமிழ்நாட்டில் தொழிற்சாலைகளுக்கு ஆண்டுக்கு</text>
<text x="1639" y="3143" textLength="473" lengthAdjust="spacingAndGlyphs">4 முறை மின் கட்டணச் சலுகை வழங்கப்படும்</text>
<text x="1639" y="3176" textLength="473" lengthAdjust="spacingAndGlyphs">என தமிழ்நாடு முதல்வர் மு.க.ஸ்டாலின் அவர்கள்</text>
<text x="1639" y="3209" textLength="90" lengthAdjust="spacingAndGlyphs">அறிவிப்பு.</text>
</g>

<g>
<text x="2185" y="1828" textLength="452" lengthAdjust="spacingAndGlyphs">குடும்பத் தலைவிகளுக்கு மாதம் ரூ.1,000 வழங்</text>
<text x="2157" y="1861" textLength="480" lengthAdjust="spacingAndGlyphs">கும் 'கலைஞர் மகளிர் உரிமைத் தொகை' திட்ட</text>
<text x="2157" y="1894" textLength="480" lengthAdjust="spacingAndGlyphs">தொடக்க விழா காஞ்சிபுரம் பச்சையப்பன் ஆடவர்</text>
<text x="2157" y="1926" textLength="360" lengthAdjust="spacingAndGlyphs">கல்லூரி மைதானத்தில் நடைபெற்றது.</text>
<text x="2185" y="1959" textLength="452" lengthAdjust="spacingAndGlyphs">இறக்கும் முன் உறுப்பு தானம் செய்வோரின் இறு</text>
<text x="2157" y="1992" textLength="480" lengthAdjust="spacingAndGlyphs">திச் சடங்குகள் இனி அரசு மரியாதையுடன் மேற்</text>
<text x="2157" y="2025" textLength="480" lengthAdjust="spacingAndGlyphs">கொள்ளப்படும் என தமிழ்நாடு முதல்வர்</text>
<text x="2157" y="2058" textLength="360" lengthAdjust="spacingAndGlyphs">மு.க.ஸ்டாலின் அவர்கள் அறிவித்தார்.</text>
<text x="2185" y="2090" textLength="452" lengthAdjust="spacingAndGlyphs">சாலைகளில் ஏற்படும் இடர்பாடுகள் குறித்து</text>
<text x="2157" y="2123" textLength="480" lengthAdjust="spacingAndGlyphs">பொதுமக்கள் புகார் தெரிவிப்பதற்காக 'நம்ம சாலை'</text>
<text x="2157" y="2156" textLength="480" lengthAdjust="spacingAndGlyphs">என்ற புதிய செயலியை அமைச்சர் உதயநிதி</text>
<text x="2157" y="2189" textLength="380" lengthAdjust="spacingAndGlyphs">ஸ்டாலின் அவர்கள் தொடங்கி வைத்தார்.</text>
<text x="2185" y="2222" textLength="452" lengthAdjust="spacingAndGlyphs">தமிழ்நாடு விளையாட்டு மேம்பாட்டு ஆணையம்</text>
<text x="2157" y="2254" textLength="480" lengthAdjust="spacingAndGlyphs">சார்பில் முதல்வர் கோப்பை விளையாட்டுப் போட்டி</text>
<text x="2157" y="2287" textLength="280" lengthAdjust="spacingAndGlyphs">கள் தொடங்கி வைக்கப்பட்டது.</text>
<text x="2185" y="2320" textLength="452" lengthAdjust="spacingAndGlyphs">'உங்களைத் தேடி, உங்கள் ஊரில்' திட்டத்தின்படி</text>
<text x="2157" y="2353" textLength="480" lengthAdjust="spacingAndGlyphs">அனைத்து மாவட்ட கலெக்டர்களும், மாதத்தில் ஒரு</text>
<text x="2157" y="2386" textLength="480" lengthAdjust="spacingAndGlyphs">நாள் முழுவதும் கிராமங்களில் தங்கி மக்களின்</text>
<text x="2157" y="2418" textLength="480" lengthAdjust="spacingAndGlyphs">குறைகளுக்கு உடனடி தீர்வு காண வேண்டும்</text>
<text x="2157" y="2451" textLength="480" lengthAdjust="spacingAndGlyphs">என்று தமிழ்நாடு முதல்வர் மு.க.ஸ்டாலின் அவர்கள்</text>
<text x="2157" y="2484" textLength="85" lengthAdjust="spacingAndGlyphs">உத்தரவு.</text>
<text x="2185" y="2517" textLength="452" lengthAdjust="spacingAndGlyphs">குடும்ப அட்டைதாரர்களுக்கு பொங்கல் பரிசுத்</text>
<text x="2157" y="2550" textLength="250" lengthAdjust="spacingAndGlyphs">தொகுப்பு வழங்கப்பட்டது.</text>
<text x="2185" y="2582" textLength="452" lengthAdjust="spacingAndGlyphs">சென்னை மாநிலக் கல்லூரி வளாகத்தில் முன்</text>
<text x="2157" y="2615" textLength="480" lengthAdjust="spacingAndGlyphs">னாள் பிரதமர் வி.பி.சிங் சிலையை முதல்வர்</text>
<text x="2157" y="2648" textLength="415" lengthAdjust="spacingAndGlyphs">மு.க.ஸ்டாலின் அவர்கள் திறந்து வைத்தார்.</text>
</g>
<g>
<text x="2185" y="2900" textLength="452" lengthAdjust="spacingAndGlyphs">மிக்ஜாம் புயல் வெள்ளத்தால் பாதிக்கப்பட்ட</text>
<text x="2157" y="2935" textLength="480" lengthAdjust="spacingAndGlyphs">சென்னை, செங்கல்பட்டு, காஞ்சிபுரம், திருவள்ளூர்</text>
<text x="2157" y="2971" textLength="480" lengthAdjust="spacingAndGlyphs">மாவட்ட மக்களுக்கு ரூபாய் 6000 நிவாரண நிதி</text>
<text x="2157" y="3006" textLength="480" lengthAdjust="spacingAndGlyphs">வழங்கும் திட்டத்தை முதல்வர் மு.க.ஸ்டாலின்</text>
<text x="2157" y="3041" textLength="285" lengthAdjust="spacingAndGlyphs">அவர்கள் தொடங்கி வைத்தார்.</text>
<text x="2185" y="3077" textLength="452" lengthAdjust="spacingAndGlyphs">கோவையில் "மக்களுடன் முதல்வர்" திட்டத்தை</text>
<text x="2157" y="3112" textLength="480" lengthAdjust="spacingAndGlyphs">முதல்வர் மு.க.ஸ்டாலின் அவர்கள் தொடங்கி</text>
<text x="2157" y="3147" textLength="100" lengthAdjust="spacingAndGlyphs">வைத்தார்.</text>
<text x="2185" y="3182" textLength="452" lengthAdjust="spacingAndGlyphs">நெல்லை, தூத்துக்குடி, தென்காசி, கன்னியா</text>
<text x="2157" y="3218" textLength="480" lengthAdjust="spacingAndGlyphs">குமரி, கடும் மழை வெள்ளத்தால் பாதிக்கப்பட்ட</text>
</g>

<g>
<text x="2675" y="1828" textLength="479" lengthAdjust="spacingAndGlyphs">மக்களுக்கு நிவாரண நிதி முதல்வர் மு.க.ஸ்டாலின்</text>
<text x="2675" y="1861" textLength="479" lengthAdjust="spacingAndGlyphs">அவர்களால், ரூபாய் 6000, ரூபாய் ஆயிரம் என்று</text>
<text x="2675" y="1894" textLength="479" lengthAdjust="spacingAndGlyphs">அறிவிக்கப்பட்டு அம்மக்களுக்கு நிவாரண நிதி</text>
<text x="2675" y="1927" textLength="150" lengthAdjust="spacingAndGlyphs">வழங்கப்பட்டது.</text>
<text x="2703" y="1960" textLength="451" lengthAdjust="spacingAndGlyphs">வைக்கம் போராட்ட நூற்றாண்டு விழா - சிறப்பு</text>
<text x="2675" y="1994" textLength="479" lengthAdjust="spacingAndGlyphs">மலர் வெளியீடு, முதல்வர் மு.க.ஸ்டாலின், கேரள</text>
<text x="2675" y="2027" textLength="479" lengthAdjust="spacingAndGlyphs">முதல்வர் பினராயி விஜயன், திராவிடர் கழகத் தலை</text>
<text x="2675" y="2060" textLength="345" lengthAdjust="spacingAndGlyphs">வர் கி.வீரமணி ஆகியோர் பங்கேற்பு.</text>
</g>
<g>
<text x="2703" y="2268" textLength="451" lengthAdjust="spacingAndGlyphs">தமிழ்நாடு விளையாட்டு வீரர்கள் சர்வதேச</text>
<text x="2675" y="2303" textLength="479" lengthAdjust="spacingAndGlyphs">போட்டிகளில் பங்கேற்க உதவித்தொகை வழங்கும்</text>
<text x="2675" y="2338" textLength="180" lengthAdjust="spacingAndGlyphs">திட்டம் தொடக்கம்.</text>
<text x="2703" y="2373" textLength="451" lengthAdjust="spacingAndGlyphs">கிளாம்பாக்கத்தில் ரூ.393.74 கோடி மதிப்பீட்டில்</text>
<text x="2675" y="2408" textLength="479" lengthAdjust="spacingAndGlyphs">இந்தியாவிலேயே மிகப் பெரிய அளவில் 'கலைஞர்</text>
<text x="2675" y="2444" textLength="479" lengthAdjust="spacingAndGlyphs">நூற்றாண்டு பேருந்து முனையம்' முதல்வர்</text>
<text x="2675" y="2479" textLength="479" lengthAdjust="spacingAndGlyphs">மு.க.ஸ்டாலின் அவர்கள் திறந்து வைக்கப்பட்டது.</text>
<text x="2703" y="2514" textLength="300" lengthAdjust="spacingAndGlyphs">உலக முதலீட்டாளர்கள் மாநாடு!</text>
<text x="2703" y="2549" textLength="451" lengthAdjust="spacingAndGlyphs">முதல்வர் மு.க.ஸ்டாலின் முதலீடுகளை ஈர்க்க</text>
<text x="2675" y="2584" textLength="479" lengthAdjust="spacingAndGlyphs">துபாய், ஸ்பெயின், அமெரிக்கா போன்ற நாடுகளுக்குச்</text>
<text x="2675" y="2619" textLength="479" lengthAdjust="spacingAndGlyphs">சென்று தொழில் முதலீடுகள் வர ஊக்கப்படுத்தி</text>
<text x="2675" y="2654" textLength="45" lengthAdjust="spacingAndGlyphs">னார்.</text>
<text x="2703" y="2689" textLength="451" lengthAdjust="spacingAndGlyphs">முதல்வர் மு.க.ஸ்டாலின் தலைமையில் உலக</text>
<text x="2675" y="2724" textLength="235" lengthAdjust="spacingAndGlyphs">முதலீட்டாளர்கள் மாநாடு</text>
<text x="2703" y="2759" textLength="451" lengthAdjust="spacingAndGlyphs">மதுரையில் ரூ 44 கோடி மதிப்பீட்டில் கலைஞர்</text>
<text x="2675" y="2795" textLength="479" lengthAdjust="spacingAndGlyphs">நூற்றாண்டு ஏறுதழுவுதல் அரங்கத்தினை முதல்வர்</text>
<text x="2675" y="2830" textLength="415" lengthAdjust="spacingAndGlyphs">மு.க.ஸ்டாலின் அவர்கள் திறந்து வைத்தார்.</text>
<text x="2703" y="2865" textLength="451" lengthAdjust="spacingAndGlyphs">முதல்வர் தலைமையிலான திராவிட மாடல் அர</text>
<text x="2675" y="2900" textLength="479" lengthAdjust="spacingAndGlyphs">சில் துணை முதல்வர் உதயநிதி ஸ்டாலின் அவர்கள்</text>
<text x="2675" y="2935" textLength="479" lengthAdjust="spacingAndGlyphs">விளையாட்டுத் துறையானது பல்வேறு சாதனை</text>
<text x="2675" y="2970" textLength="479" lengthAdjust="spacingAndGlyphs">களை நிகழ்த்தி வருகிறது. அதில் ஒன்றுதான் சென்</text>
<text x="2675" y="3005" textLength="479" lengthAdjust="spacingAndGlyphs">னையில் நடைபெற்ற யூத் கேலோ இந்தியா விளை</text>
<text x="2675" y="3040" textLength="479" lengthAdjust="spacingAndGlyphs">யாட்டுப் போட்டி ஆகும். இந்தப் போட்டியில் தமிழகம்</text>
<text x="2675" y="3075" textLength="479" lengthAdjust="spacingAndGlyphs">38 தங்கம், 21 வெள்ளி, 39 வெண்கலம் பதக்கங்கள்</text>
<text x="2675" y="3110" textLength="385" lengthAdjust="spacingAndGlyphs">பெற்று இரண்டாவது இடத்தை பிடித்தது.</text>
<text x="2703" y="3146" textLength="451" lengthAdjust="spacingAndGlyphs">முத்தமிழறிஞர் கலைஞர் அவர்களின் புதுப்பிக்கப்</text>
<text x="2675" y="3181" textLength="479" lengthAdjust="spacingAndGlyphs">பட்ட கலைஞர் நினைவகம் திறந்து வைக்கப்பட்டது.</text>
<text x="2703" y="3216" textLength="451" lengthAdjust="spacingAndGlyphs">தூத்துக்குடி குலசேகரப்பட்டினத்தில் நாட்டின் 2 வது</text>
</g>

<g>
<text x="3189" y="1828" textLength="455" lengthAdjust="spacingAndGlyphs">ராக்கெட் ஏவுதளத்துக்கு அடிக்கல் நாட்டப்பட்டது.</text>
<text x="3217" y="1861" textLength="455" lengthAdjust="spacingAndGlyphs">நாடாளுமன்றத் தேர்தலில் இந்தியா கூட்டணி</text>
<text x="3189" y="1894" textLength="483" lengthAdjust="spacingAndGlyphs">தமிழ்நாட்டில் தி.மு.க. தலைமையில் போட்டியிட்ட</text>
<text x="3189" y="1927" textLength="483" lengthAdjust="spacingAndGlyphs">தில் 39 தொகுதிகளிலும் வெற்றி பெற்று முதல்வர்</text>
<text x="3189" y="1960" textLength="483" lengthAdjust="spacingAndGlyphs">மு.க.ஸ்டாலின் அவர்களின் சாதனைகளுக்கு மக்</text>
<text x="3189" y="1993" textLength="483" lengthAdjust="spacingAndGlyphs">கள் அங்கீகாரம் அளித்தனர். புதுச்சேரியிலும்</text>
<text x="3189" y="2026" textLength="483" lengthAdjust="spacingAndGlyphs">இந்தியா கூட்டணியே வெற்றி பெற்றது குறிப்பிடத்</text>
<text x="3189" y="2059" textLength="110" lengthAdjust="spacingAndGlyphs">தக்கதாகும்.</text>
<text x="3217" y="2092" textLength="455" lengthAdjust="spacingAndGlyphs">தி.மு.க. ஆட்சிக்கு முதல்வர் மு.க.ஸ்டாலின் அவர்</text>
<text x="3189" y="2125" textLength="483" lengthAdjust="spacingAndGlyphs">களின் சாதனைகளுக்கு மக்கள் அங்கீகாரம் கிடைக்</text>
<text x="3189" y="2158" textLength="483" lengthAdjust="spacingAndGlyphs">கும் வகையில் விக்கிரவாண்டி இடைத்தேர்தலில்</text>
<text x="3189" y="2191" textLength="235" lengthAdjust="spacingAndGlyphs">தி.மு.க. வெற்றி பெற்றது.</text>
<text x="3217" y="2224" textLength="455" lengthAdjust="spacingAndGlyphs">அரசு கல்லூரிகளில் படிக்கும் மாணவர்களுக்கு</text>
<text x="3189" y="2257" textLength="483" lengthAdjust="spacingAndGlyphs">மாதந்தோறும் ரூபாய் ஆயிரம் வழங்கும் தமிழ்ப்</text>
<text x="3189" y="2290" textLength="275" lengthAdjust="spacingAndGlyphs">புதல்வன் திட்டம் தொடக்கம்.</text>
<text x="3217" y="2323" textLength="455" lengthAdjust="spacingAndGlyphs">திருவண்ணாமலை, நாமக்கல், புதுக்கோட்டை,</text>
<text x="3189" y="2356" textLength="335" lengthAdjust="spacingAndGlyphs">காரைக்குடி மாநகராட்சிகள் ஆகின.</text>
<text x="3217" y="2389" textLength="455" lengthAdjust="spacingAndGlyphs">தொழிற்சாலைகளில் பணி புரியும் பெண்களுக்</text>
<text x="3189" y="2422" textLength="483" lengthAdjust="spacingAndGlyphs">காக 18,720 படுக்கைகளுடன் கொண்ட தங்குமிடம்</text>
<text x="3189" y="2455" textLength="270" lengthAdjust="spacingAndGlyphs">கட்டுமானப் பணிகள் திறப்பு.</text>
</g>
<g>
<text x="3217" y="2753" textLength="455" lengthAdjust="spacingAndGlyphs">பவானி ஆற்றின் உபரி நீரை கோவை, திருப்பூர்,</text>
<text x="3189" y="2787" textLength="483" lengthAdjust="spacingAndGlyphs">ஈரோடு விவசாயத்துக்கு பயன்படுத்த அத்திக்கடவு</text>
<text x="3189" y="2821" textLength="260" lengthAdjust="spacingAndGlyphs">அவினாசி திட்டம் துவக்கம்.</text>
<text x="3217" y="2855" textLength="455" lengthAdjust="spacingAndGlyphs">முத்தமிழறிஞர் கலைஞர் நூற்றாண்டு நினைவு</text>
<text x="3189" y="2889" textLength="483" lengthAdjust="spacingAndGlyphs">நாணயம் மத்திய அமைச்சர் ராஜ்நாத் சிங், முதல்வர்</text>
<text x="3189" y="2924" textLength="295" lengthAdjust="spacingAndGlyphs">முன்னிலையில் வெளியிட்டார்.</text>
<text x="3217" y="2958" textLength="455" lengthAdjust="spacingAndGlyphs">துணை முதல்வர் உதயநிதி ஸ்டாலின் அவர்கள்</text>
<text x="3189" y="2992" textLength="483" lengthAdjust="spacingAndGlyphs">முன்னின்று நடத்திய தெற்காசியாவிலேயே முதல்</text>
<text x="3189" y="3026" textLength="483" lengthAdjust="spacingAndGlyphs">முறையாக சென்னையில் இரவு நேர சாலை ஃபார்</text>
</g>

<g>
<text x="3706" y="1738" textLength="481" lengthAdjust="spacingAndGlyphs">முலா 4 கார் பந்தயத்தையும் ஆகஸ்ட் 31, செப்டம்பர்</text>
<text x="3706" y="1771" textLength="481" lengthAdjust="spacingAndGlyphs">1 ஆகிய தேதிகள் நடைபெற்றது. இந்த ஃபார்முலா</text>
<text x="3706" y="1804" textLength="455" lengthAdjust="spacingAndGlyphs">4 கார் பந்தயப் போட்டி பலரால் பாராட்டப்பட்டது.</text>
<text x="3734" y="1836" textLength="453" lengthAdjust="spacingAndGlyphs">அமெரிக்காவில் இருந்து முதல்வர் மு.க.ஸ்டாலின்</text>
<text x="3706" y="1869" textLength="481" lengthAdjust="spacingAndGlyphs">சென்னை திரும்பியபோது செய்தியாளர்களிடத்</text>
<text x="3706" y="1902" textLength="481" lengthAdjust="spacingAndGlyphs">தில் 7516 கோடி முதலீட்டுக்கு புரிந்துணர்வு ஒப்பந்தம்</text>
<text x="3706" y="1935" textLength="300" lengthAdjust="spacingAndGlyphs">செய்யப்பட்டுள்ளதாக கூறினார்.</text>
<text x="3734" y="1968" textLength="453" lengthAdjust="spacingAndGlyphs">முதல்வர் மு.க.ஸ்டாலின் அவர்களின் சீரிய</text>
<text x="3706" y="2000" textLength="481" lengthAdjust="spacingAndGlyphs">திட்டங்களில் ஒன்றான மக்களைத் தேடி மருத்துவ</text>
<text x="3706" y="2033" textLength="465" lengthAdjust="spacingAndGlyphs">திட்டத்திற்கு ஐ.நா. விருது வழங்கி கௌரவித்தது.</text>
</g>
<g>
<text x="3734" y="2198" textLength="453" lengthAdjust="spacingAndGlyphs">அய்யன் திருவள்ளுவர் சிலை வெள்ளி விழாவை</text>
<text x="3706" y="2233" textLength="481" lengthAdjust="spacingAndGlyphs">முன்னிட்டு கன்னியாகுமரியில் கண்ணாடி இழைப்</text>
<text x="3706" y="2267" textLength="481" lengthAdjust="spacingAndGlyphs">பாலத்தை முதல்வர் மு.க.ஸ்டாலின் அவர்கள்</text>
<text x="3706" y="2302" textLength="180" lengthAdjust="spacingAndGlyphs">திறந்து வைத்தார்.</text>
<text x="3734" y="2337" textLength="453" lengthAdjust="spacingAndGlyphs">இலங்கைத் தமிழர்கள் வாழும் முகாம்களை மறு</text>
<text x="3706" y="2372" textLength="481" lengthAdjust="spacingAndGlyphs">வாழ்வு முகாம்கள் எனப் பெயர் மாற்றம் செய்து</text>
<text x="3706" y="2406" textLength="481" lengthAdjust="spacingAndGlyphs">அவர்களுக்கு புதிய வீடுகள் கட்டித் தரும் பணி</text>
<text x="3706" y="2441" textLength="165" lengthAdjust="spacingAndGlyphs">தொடங்கப்பட்டது.</text>
<text x="3734" y="2476" textLength="453" lengthAdjust="spacingAndGlyphs">இலங்கைத் தமிழர்களின் மறுவாழ்வுக்கான பல்வேறு</text>
<text x="3706" y="2510" textLength="481" lengthAdjust="spacingAndGlyphs">நலத்திட்டங்களை முதல்வர் மு.க.ஸ்டாலின்</text>
<text x="3706" y="2545" textLength="481" lengthAdjust="spacingAndGlyphs">அவர்கள் அறிவித்தார். தமிழ்நாடு அரசின் திட்டங்</text>
<text x="3706" y="2580" textLength="440" lengthAdjust="spacingAndGlyphs">களை அறிவித்து செயல்படுத்தப்பட்டு வருகிறது.</text>
<text x="3734" y="2614" textLength="453" lengthAdjust="spacingAndGlyphs">பெண்களுக்கு பாதுகாப்பளிக்கும் மாநிலமாக</text>
<text x="3706" y="2649" textLength="481" lengthAdjust="spacingAndGlyphs">தமிழ்நாடு திகழ்ந்து வருகிறது. மேலும் அதனை</text>
<text x="3706" y="2684" textLength="481" lengthAdjust="spacingAndGlyphs">உறுதிபடுத்தும் வகையில் பாலியல் குற்றம் புரிவோ</text>
<text x="3706" y="2719" textLength="481" lengthAdjust="spacingAndGlyphs">ருக்கு கடும் தண்டனை நிறைவேற்றும் வகையில்</text>
<text x="3706" y="2753" textLength="481" lengthAdjust="spacingAndGlyphs">சட்டப்பேரவையில் புதிய சட்ட முன் வடிவு கொண்டு</text>
<text x="3706" y="2788" textLength="295" lengthAdjust="spacingAndGlyphs">வரப்பட்டு நிறைவேற்றப்பட்டது.</text>
<text x="3734" y="2823" textLength="453" lengthAdjust="spacingAndGlyphs">தமிழ்நாட்டில் 1000 முதல்வர் மருந்தகங்களை</text>
<text x="3706" y="2857" textLength="415" lengthAdjust="spacingAndGlyphs">முதல்வர் மு.க.ஸ்டாலின் திறந்து வைத்தார்.</text>
<text x="3734" y="2892" textLength="453" lengthAdjust="spacingAndGlyphs">27.2.2025 அன்று கொளத்தூர் தொகுதி பெரி</text>
<text x="3706" y="2927" textLength="481" lengthAdjust="spacingAndGlyphs">யார் நகரில் ரூ.210 கோடி மதிப்பீட்டில் புதிதாக கட்டப்</text>
<text x="3706" y="2961" textLength="481" lengthAdjust="spacingAndGlyphs">பட்ட பெரியார் அரசு மருத்துவமனையை மக்கள்</text>
<text x="3706" y="2996" textLength="481" lengthAdjust="spacingAndGlyphs">பயன்பாட்டிற்காக முதல்வர் மு.க.ஸ்டாலின் அவர்</text>
<text x="3706" y="3031" textLength="330" lengthAdjust="spacingAndGlyphs">கள் திறந்து வைத்து சிறப்பித்தார்.</text>
</g>
</svg>
</body></html>
